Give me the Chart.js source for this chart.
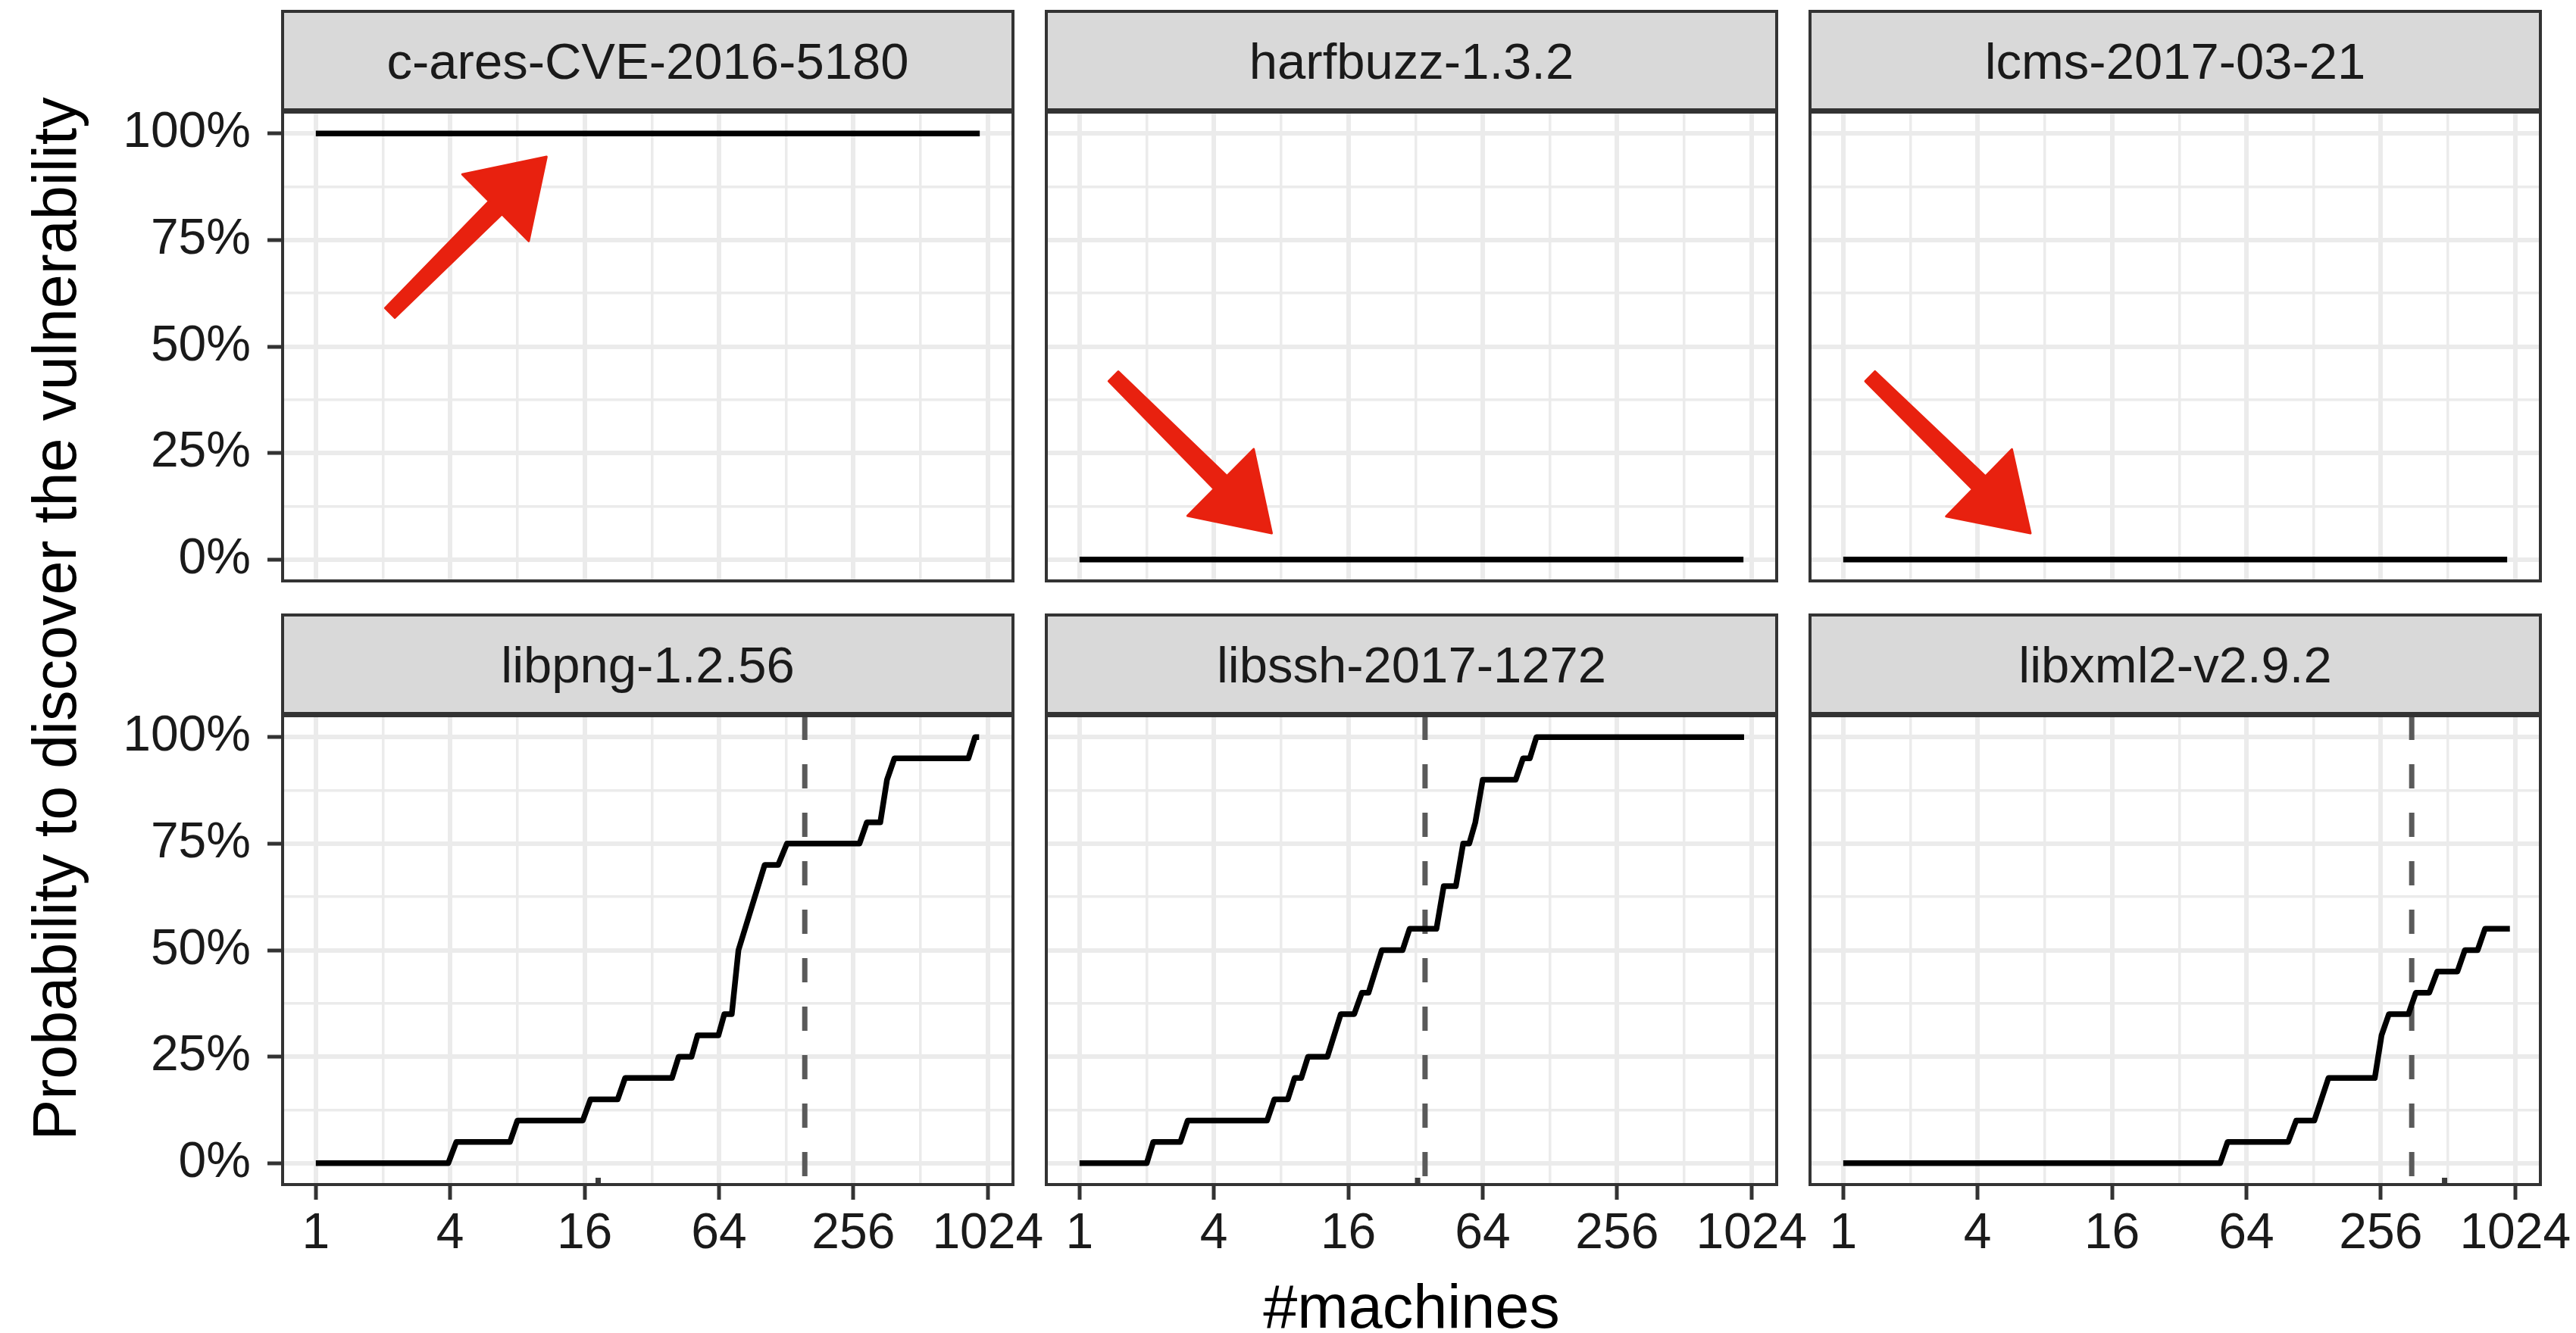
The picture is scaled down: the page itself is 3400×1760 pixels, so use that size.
<!DOCTYPE html>
<html>
<head>
<meta charset="utf-8">
<script src="https://cdn.jsdelivr.net/npm/chart.js@4.4.0/dist/chart.umd.min.js"></script>
<style>
  html, body { margin:0; padding:0; background:#fff; }
  body { width:3400px; height:1760px; position:relative; overflow:hidden;
         font-family:'Liberation Sans', Arial, Helvetica, sans-serif; }
  .strip { position:absolute; box-sizing:border-box; background:#d9d9d9; border:4px solid #333;
           color:#1a1a1a; font-size:67px; display:flex; align-items:center; justify-content:center;
           white-space:nowrap; }
  canvas { position:absolute; }
  .atitle { position:absolute; font-size:81px; line-height:82px; height:82px; text-align:center;
            color:#000; white-space:nowrap; }
</style>
</head>
<body>
<script>
// ---------------- data ----------------
const facetTitles = ['c-ares-CVE-2016-5180', 'harfbuzz-1.3.2', 'lcms-2017-03-21',
                     'libpng-1.2.56', 'libssh-2017-1272', 'libxml2-v2.9.2'];
const xMajorTicks = [1, 4, 16, 64, 256, 1024];
const xMinorTicks = [2, 8, 32, 128, 512];
const yMajorTicks = [0, 25, 50, 75, 100];
const yMinorTicks = [12.5, 37.5, 62.5, 87.5];
const xTitle = '#machines';
const yTitle = 'Probability to discover the vulnerability';

const caresMachines = [1, 942];
const caresProb = [100, 100];
const harfbuzzMachines = [1, 942];
const harfbuzzProb = [0, 0];
const lcmsMachines = [1, 942];
const lcmsProb = [0, 0];
const libpngMachines = [1, 3.92, 4.26, 7.41, 8, 15.7, 17.0, 22.5, 24.3, 39.4, 42.2, 48.2, 51.3, 63.6,
                        67.6, 73.0, 78.2, 102.5, 117.8, 128.9, 272.5, 294, 337.8, 362, 390.7, 837.5, 897.6, 935.8];
const libpngProb = [0, 0, 5, 5, 10, 10, 15, 15, 20, 20, 25, 25, 30, 30,
                    35, 35, 50, 70, 70, 75, 75, 80, 80, 90, 95, 95, 100, 100];
const libsshMachines = [1, 2, 2.14, 2.83, 3.05, 6.92, 7.46, 8.57, 9.19, 9.85, 10.56, 12.9, 14.8, 17.0,
                        18.4, 19.7, 22.6, 28.0, 30.1, 39.7, 42.8, 48.5, 52.3, 55.7, 59.3, 64, 89.9, 97, 104, 111.4, 948];
const libsshProb = [0, 0, 5, 5, 10, 10, 15, 15, 20, 20, 25, 25, 35, 35,
                    40, 40, 50, 50, 55, 55, 65, 65, 75, 75, 80, 90, 90, 95, 95, 100, 100];
const libxml2Machines = [1, 48.8, 52.7, 98.4, 106.9, 128.9, 149.1, 240.5, 257.8, 278.2, 340.2, 367.1,
                         421.7, 458.2, 564.2, 608.9, 694.6, 749.5, 968.6];
const libxml2Prob = [0, 0, 5, 5, 10, 10, 20, 20, 30, 35, 35, 40, 40, 45, 45, 50, 50, 55, 55];

const seriesMachines = [caresMachines, harfbuzzMachines, lcmsMachines, libpngMachines, libsshMachines, libxml2Machines];
const seriesProb = [caresProb, harfbuzzProb, lcmsProb, libpngProb, libsshProb, libxml2Prob];
// dashed reference line (machines) per facet
const refLineMachines = [null, null, null, 155, 35.3, 352];
// small dark mark at the panel bottom per facet
const markMachines = [null, null, null, 18.4, 32.7, 494];
// hand drawn red arrows (facet index, tail, tip)
const arrowFacet = [0, 1, 2];
const arrowTailMachines = [2.15, 1.42, 1.32];
const arrowTailProb = [57.9, 43.0, 43.0];
const arrowTipMachines = [10.8, 7.26, 6.9];
const arrowTipProb = [94.5, 6.2, 6.2];

// ---------------- layout ----------------
const FONT = "'Liberation Sans', Arial, Helvetica, sans-serif";
const colLeft = [373, 1381, 2389];
const rowTop = [148, 945];
const stripTop = [13, 810];
const PW = 964, PH = 619;
const xMin = Math.pow(2, -0.494), xMax = Math.pow(2, 10.374);
const xGridVals = [...xMajorTicks, ...xMinorTicks].sort((a, b) => a - b);
const yGridVals = [...yMajorTicks, ...yMinorTicks].sort((a, b) => a - b);

function addDiv(cls, text, style) {
  const d = document.createElement('div');
  d.className = cls; d.textContent = text;
  Object.assign(d.style, style);
  document.body.appendChild(d);
  return d;
}

for (let i = 0; i < 6; i++) {
  const col = i % 3, row = Math.floor(i / 3);
  // strip
  addDiv('strip', facetTitles[i], {
    left: (colLeft[col] - 2) + 'px', top: stripTop[row] + 'px',
    width: (PW + 4) + 'px', height: (rowTop[row] - 1 - stripTop[row]) + 'px'
  });

  const padL = col === 0 ? 373 : 20;
  const padR = 70, padT = 10;
  const padB = row === 1 ? 140 : 6;
  const cv = document.createElement('canvas');
  const W = padL + PW + padR, H = padT + PH + padB;
  cv.width = W; cv.height = H;
  cv.style.width = W + 'px'; cv.style.height = H + 'px';
  cv.style.left = (colLeft[col] - padL) + 'px';
  cv.style.top = (rowTop[row] - padT) + 'px';
  document.body.appendChild(cv);

  const datasets = [{
    data: seriesMachines[i].map((m, k) => ({ x: m, y: seriesProb[i][k] })),
    borderColor: '#000', borderWidth: 7.5, pointRadius: 0, tension: 0,
    borderCapStyle: 'butt', borderJoinStyle: 'round', fill: false
  }];
  if (refLineMachines[i] !== null) {
    datasets.push({
      data: [{ x: refLineMachines[i], y: 105 }, { x: refLineMachines[i], y: -5 }],
      borderColor: '#5a5a5a', borderWidth: 7, borderDash: [32, 32], pointRadius: 0,
      borderCapStyle: 'butt', fill: false
    });
  }
  if (markMachines[i] !== null) {
    datasets.push({
      data: [{ x: markMachines[i], y: -5 }, { x: markMachines[i], y: -3.4 }],
      borderColor: '#3a3a3a', borderWidth: 7, pointRadius: 0, borderCapStyle: 'butt', fill: false
    });
  }

  const isMajorX = c => c.tick && xMajorTicks.includes(c.tick.value);
  const isMajorY = c => c.tick && yMajorTicks.includes(c.tick.value);

  const panelPlugin = {
    id: 'panel' + i,
    afterDraw(chart) {
      const { ctx, chartArea: a } = chart;
      ctx.save();
      ctx.strokeStyle = '#333';
      ctx.lineWidth = 4;
      ctx.strokeRect(a.left, a.top, a.right - a.left, a.bottom - a.top);
      const xs = chart.scales.x, ys = chart.scales.y;
      for (let k = 0; k < arrowFacet.length; k++) {
        if (arrowFacet[k] !== i) continue;
        const p0 = { x: xs.getPixelForValue(arrowTailMachines[k]), y: ys.getPixelForValue(arrowTailProb[k]) };
        const p1 = { x: xs.getPixelForValue(arrowTipMachines[k]), y: ys.getPixelForValue(arrowTipProb[k]) };
        const dx = p1.x - p0.x, dy = p1.y - p0.y, len = Math.hypot(dx, dy);
        const ux = dx / len, uy = dy / len, nx = -uy, ny = ux;
        const HL = 95, HW = 62, SW0 = 9, SW1 = 12;
        const bx = p1.x - ux * HL, by = p1.y - uy * HL;
        ctx.beginPath();
        ctx.moveTo(p0.x + nx * SW0, p0.y + ny * SW0);
        ctx.lineTo(bx + nx * SW1, by + ny * SW1);
        ctx.lineTo(bx + nx * HW, by + ny * HW);
        ctx.lineTo(p1.x, p1.y);
        ctx.lineTo(bx - nx * HW, by - ny * HW);
        ctx.lineTo(bx - nx * SW1, by - ny * SW1);
        ctx.lineTo(p0.x - nx * SW0, p0.y - ny * SW0);
        ctx.closePath();
        ctx.fillStyle = '#e8210f';
        ctx.fill();
        ctx.lineJoin = 'round';
        ctx.lineWidth = 3;
        ctx.strokeStyle = '#e8210f';
        ctx.stroke();
      }
      ctx.restore();
    }
  };

  new Chart(cv, {
    type: 'line',
    data: { datasets },
    options: {
      responsive: false, animation: false, devicePixelRatio: 1,
      layout: { padding: { left: 0, right: padR, top: padT, bottom: 0 } },
      plugins: { legend: { display: false }, tooltip: { enabled: false } },
      scales: {
        x: {
          type: 'logarithmic', min: xMin, max: xMax, bounds: 'data',
          afterBuildTicks: s => { s.ticks = xGridVals.map(v => ({ value: v })); },
          afterFit: s => { s.height = padB; s.paddingLeft = 0; s.paddingRight = 0; },
          ticks: {
            display: row === 1, autoSkip: false, maxRotation: 0, minRotation: 0, padding: 6,
            color: '#1a1a1a', font: { family: FONT, size: 66 },
            callback: v => xMajorTicks.includes(v) ? String(v) : ''
          },
          grid: {
            color: '#ebebeb', lineWidth: c => isMajorX(c) ? 6 : 3.5,
            drawTicks: row === 1, tickLength: 20, tickWidth: 5,
            tickColor: c => isMajorX(c) ? '#333' : 'rgba(0,0,0,0)'
          },
          border: { display: false }
        },
        y: {
          type: 'linear', min: -5, max: 105,
          afterBuildTicks: s => { s.ticks = yGridVals.map(v => ({ value: v })); },
          afterFit: s => { s.width = padL; s.paddingTop = 0; s.paddingBottom = 0; },
          ticks: {
            display: col === 0, autoSkip: false, padding: 22,
            color: '#1a1a1a', font: { family: FONT, size: 66 },
            callback: v => yMajorTicks.includes(v) ? v + '%' : ''
          },
          grid: {
            color: '#ebebeb', lineWidth: c => isMajorY(c) ? 6 : 3.5,
            drawTicks: col === 0, tickLength: 20, tickWidth: 5,
            tickColor: c => isMajorY(c) ? '#333' : 'rgba(0,0,0,0)'
          },
          border: { display: false }
        }
      }
    },
    plugins: [panelPlugin]
  });
}

// axis titles
addDiv('atitle', xTitle, { left: (1863 - 500) + 'px', top: '1684px', width: '1000px' });
addDiv('atitle', yTitle, { left: (72 - 800) + 'px', top: (817 - 41) + 'px', width: '1600px',
                           transform: 'rotate(-90deg)' });
</script>
</body>
</html>
